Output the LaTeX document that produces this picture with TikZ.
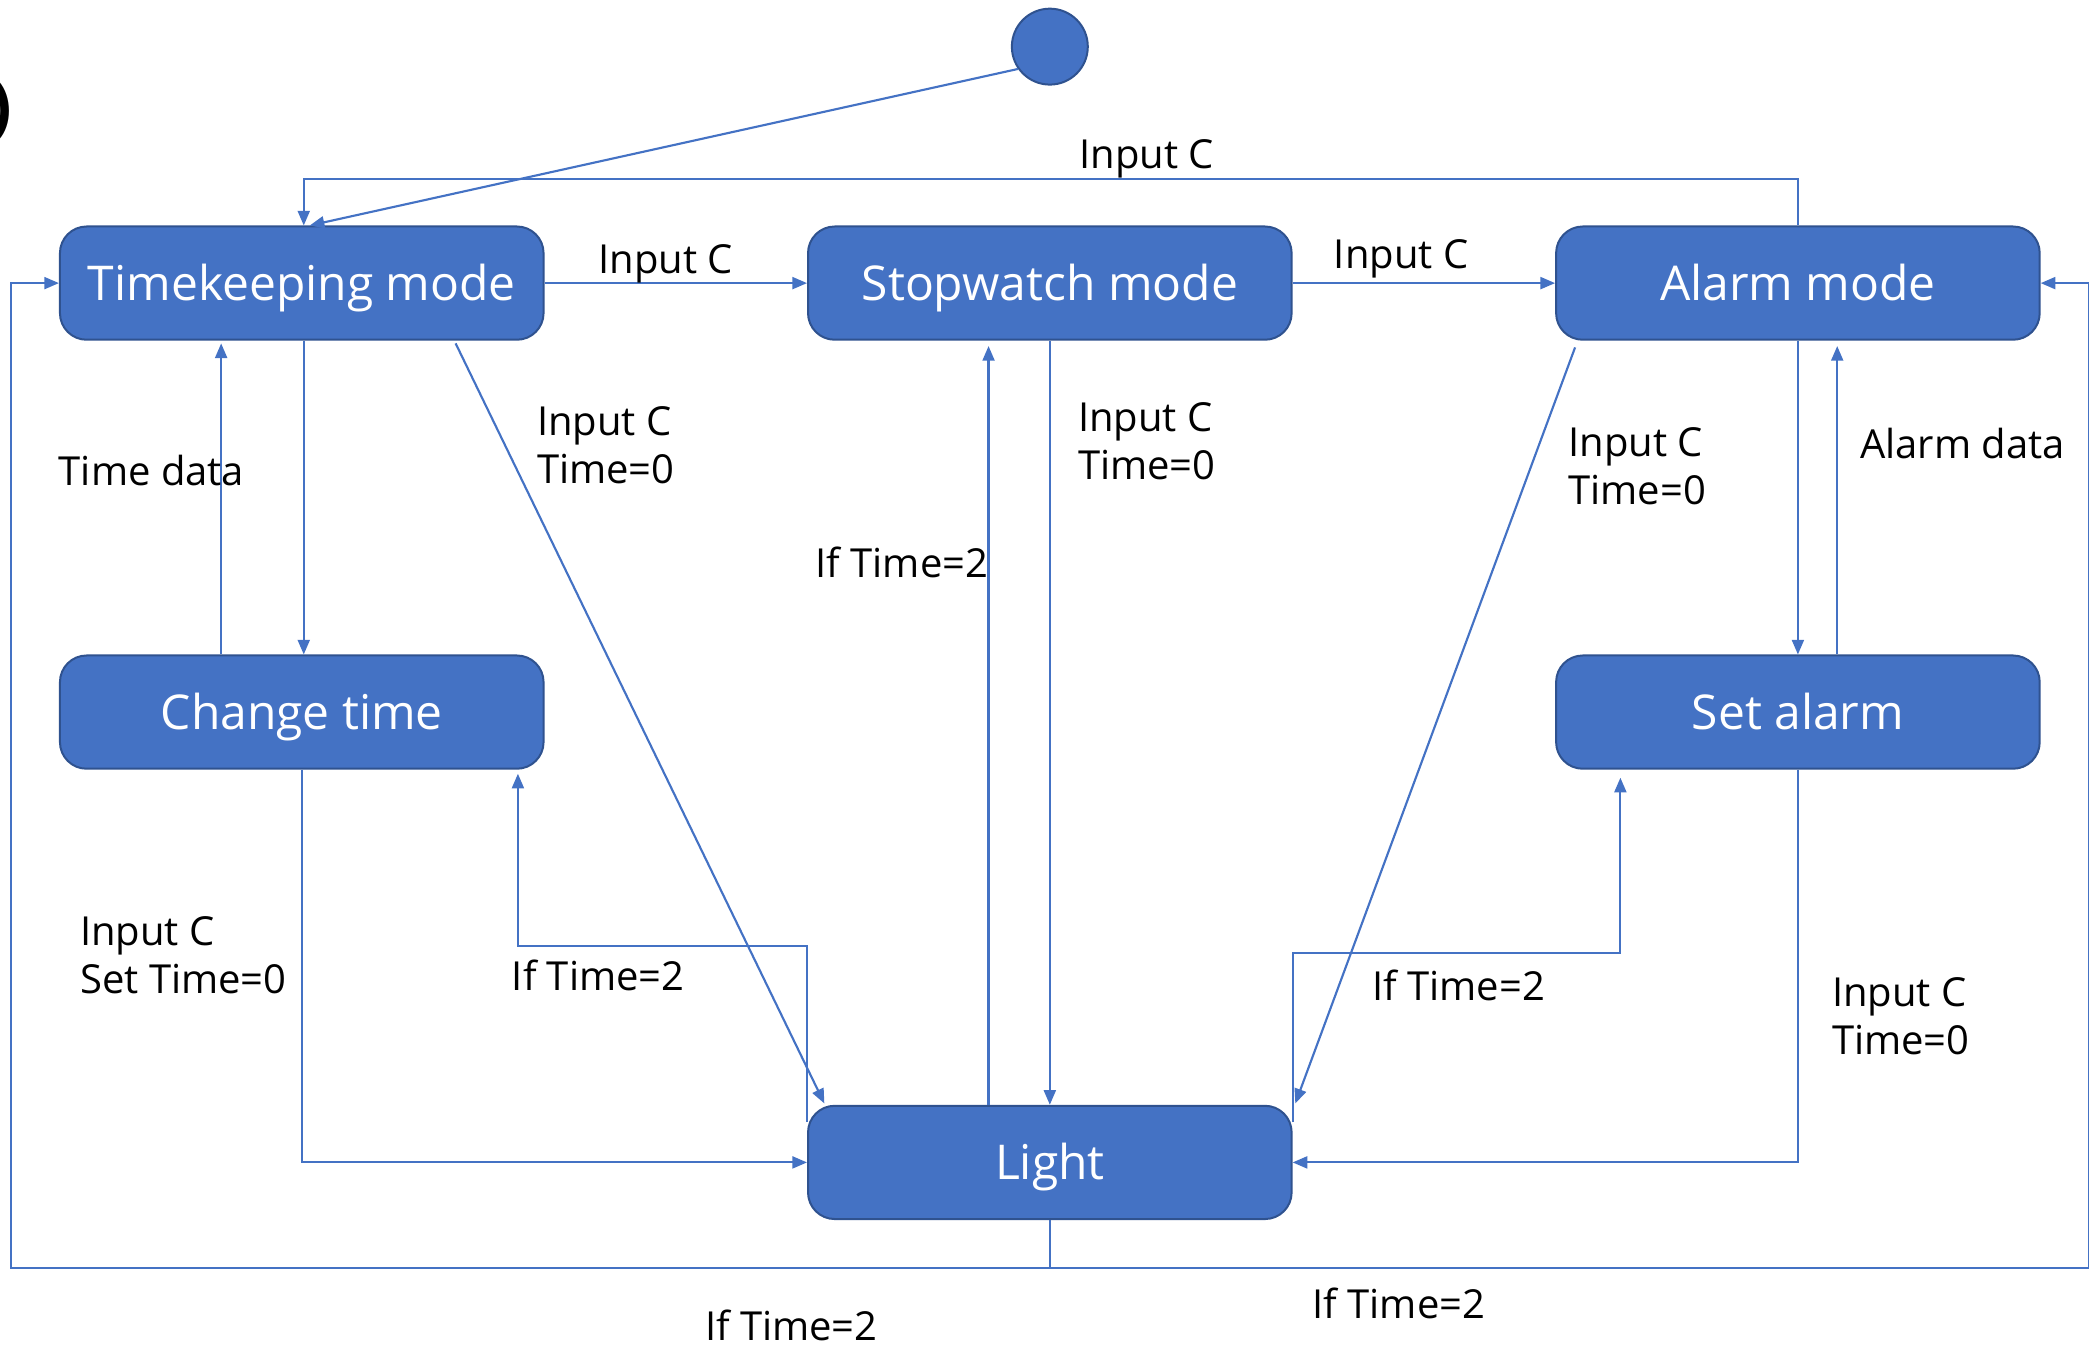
\documentclass[tikz,border=0pt]{standalone}
\usepackage{fontspec}
\setmainfont{Open Sans}
\usetikzlibrary{arrows.meta,calc}
\definecolor{boxfill}{HTML}{4472C4}
\definecolor{boxline}{HTML}{2F528F}
\definecolor{wire}{HTML}{4472C4}
\begin{document}
\begin{tikzpicture}[x=1pt,y=-1pt,
  statebox/.style={rectangle,rounded corners=20pt,fill=boxfill,draw=boxline,line width=1.5pt,
    minimum width=363pt,minimum height=85pt,inner sep=0pt,text height=26pt,text depth=0pt,
    text=white,font=\fontsize{36}{43}\selectfont},
  lbl/.style={anchor=west,inner sep=0pt,align=left,text=black,font=\fontsize{30}{36}\selectfont},
  arr/.style={draw=wire,line width=1.6pt,-{Triangle[length=11pt,width=9pt]}},
  ln/.style={draw=wire,line width=1.6pt}]
\useasboundingbox (0,0) rectangle (1568,1012);
% partial glyph at left edge
\node[anchor=east,inner sep=0pt,font=\fontsize{50}{60}\selectfont\bfseries] (cut) at (9,83) {)};
% states
\node[circle,fill=boxfill,draw=boxline,line width=1.5pt,minimum size=57pt,inner sep=0pt] (init) at (788,35) {};
\node[statebox] (tk) at (226.5,212.5) {Timekeeping mode};
\node[statebox] (sw) at (788,212.5) {Stopwatch mode};
\node[statebox] (al) at (1349.5,212.5) {Alarm mode};
\node[statebox] (ct) at (226.5,534.5) {Change time};
\node[statebox] (sa) at (1349.5,534.5) {Set alarm};
\node[statebox] (li) at (788,872.5) {Light};
% connectors
\draw[arr] (init.215) -- ([xshift=6pt]tk.north);
\draw[arr] (al.north) -- ++(0,-35) -| ([xshift=1.5pt]tk.north);
\draw[arr] (tk.east) -- (sw.west);
\draw[arr] (sw.east) -- (al.west);
\draw[arr] ([xshift=1.5pt]tk.south) -- ([xshift=1.5pt]ct.north);
\draw[arr] ([xshift=-60.5pt]ct.north) -- ([xshift=-60.5pt,yshift=-2pt]tk.south);
\draw[arr] ([xshift=115.5pt,yshift=-2pt]tk.south) -- ([xshift=13pt,yshift=1pt]li.north west);
\draw[arr] (ct.south) |- (li.west);
\draw[arr] ([yshift=-13pt]li.north west) -- ++(0,-132) -| ([xshift=-20pt,yshift=-3pt]ct.south east);
\draw[arr] ([xshift=-46pt]li.north) -- ([xshift=-46pt,yshift=-4pt]sw.south);
\draw[arr] (sw.south) -- (li.north);
\draw[arr] ([xshift=15pt,yshift=-5pt]al.south west) -- ([xshift=2pt,yshift=1pt]li.north east);
\draw[arr] (al.south) -- (sa.north);
\draw[arr] ([xshift=29.5pt]sa.north) -- ([xshift=29.5pt,yshift=-4pt]al.south);
\draw[arr] ([yshift=-13pt]li.north east) -- ++(0,-127) -| ([xshift=49pt,yshift=-6pt]sa.south west);
\draw[arr] (sa.south) |- (li.east);
\draw[ln] (li.south) -- ++(0,36) coordinate (bj);
\draw[arr] (bj) -| ([xshift=-36pt]tk.west) -- (tk.west);
\draw[arr] (bj) -| ([xshift=36pt]al.east) -- (al.east);
% labels
\node[lbl] (l1) at (810,119) {Input C};
\node[lbl] (l2) at (449,198) {Input C};
\node[lbl] (l3) at (1001,194) {Input C};
\node[lbl] (l4) at (44,353) {Time data};
\node[lbl] (l5) at (403,334) {Input C\\Time=0};
\node[lbl] (l6) at (612,422) {If Time=2};
\node[lbl] (l7) at (809,331) {Input C\\Time=0};
\node[lbl] (l8) at (1177,350) {Input C\\Time=0};
\node[lbl] (l9) at (1396,333) {Alarm data};
\node[lbl] (l10) at (60,717) {Input C\\Set Time=0};
\node[lbl] (l11) at (384,732) {If Time=2};
\node[lbl] (l12) at (1030,740) {If Time=2};
\node[lbl] (l13) at (1375,763) {Input C\\Time=0};
\node[lbl] (l14) at (529,995) {If Time=2};
\node[lbl] (l15) at (985,978) {If Time=2};
\end{tikzpicture}
\end{document}
